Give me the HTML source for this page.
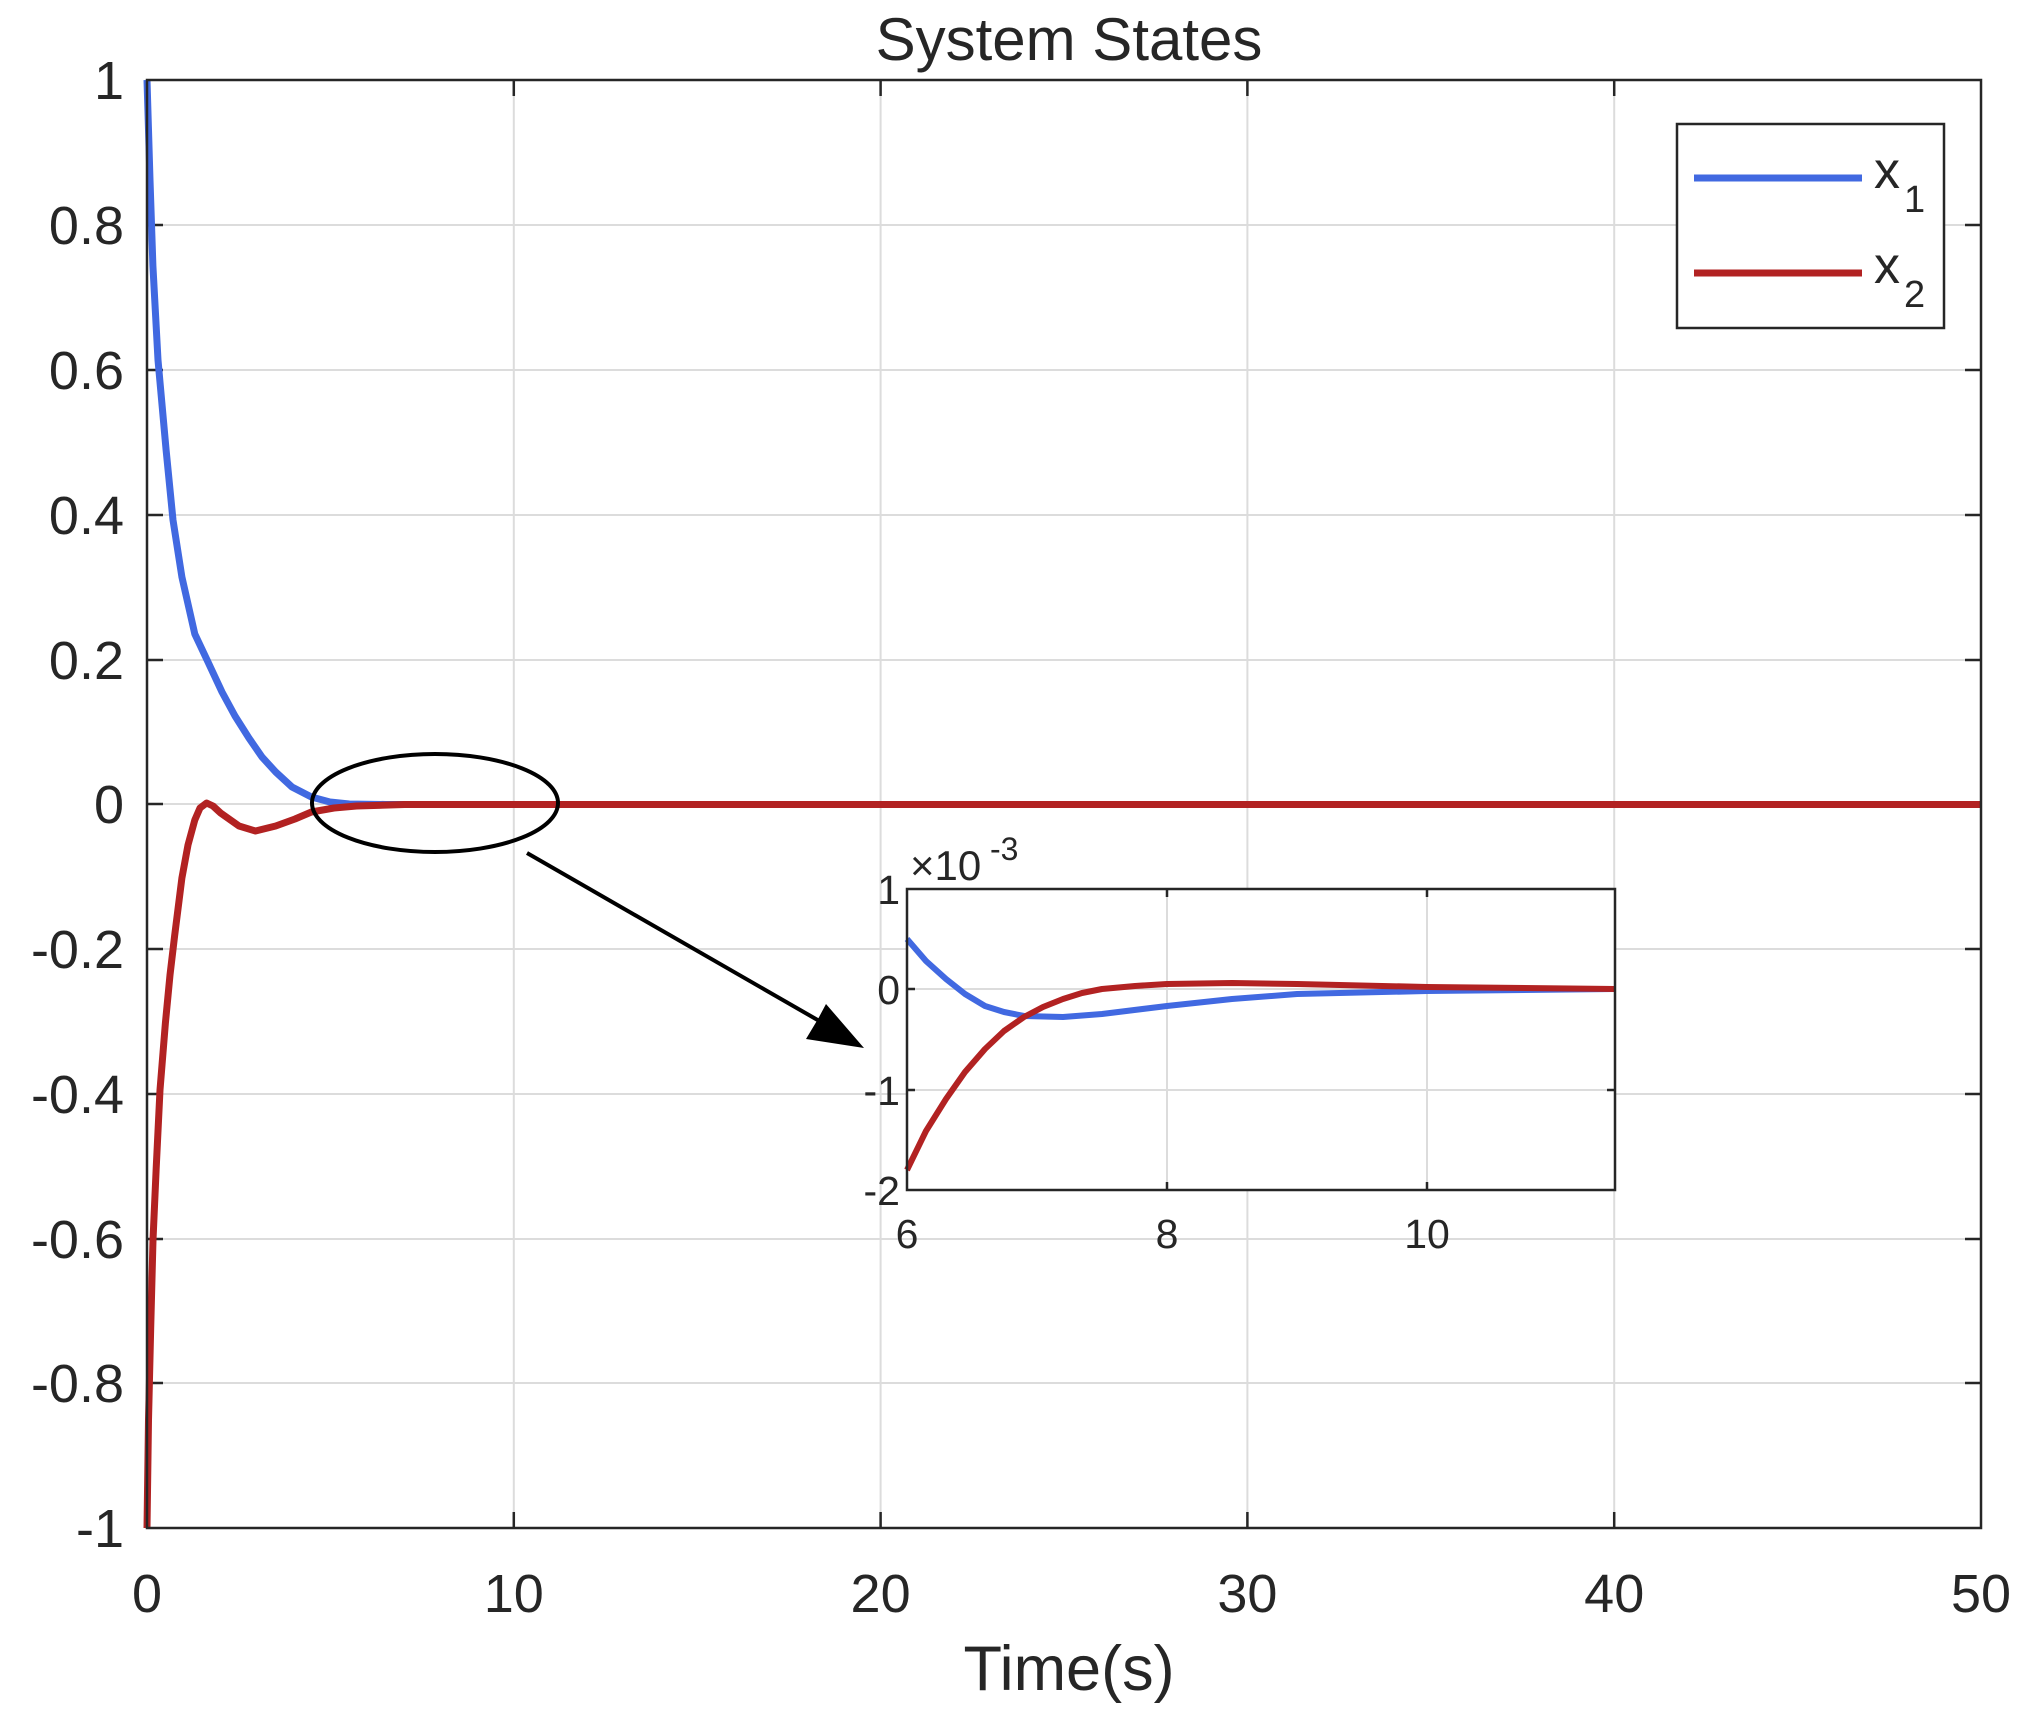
<!DOCTYPE html>
<html><head><style>body{margin:0;background:#fff}svg{display:block}text{font-family:"Liberation Sans",Arial,sans-serif;fill:#262626}</style></head>
<body>
<svg width="2032" height="1716" viewBox="0 0 2032 1716" xmlns="http://www.w3.org/2000/svg">
<rect width="2032" height="1716" fill="#fff"/>
<g stroke="#dcdcdc" stroke-width="2">
<line x1="513.8" y1="80" x2="513.8" y2="1528"/><line x1="880.6" y1="80" x2="880.6" y2="1528"/><line x1="1247.4" y1="80" x2="1247.4" y2="1528"/><line x1="1614.2" y1="80" x2="1614.2" y2="1528"/>
<line x1="147" y1="225" x2="1981" y2="225"/><line x1="147" y1="370" x2="1981" y2="370"/><line x1="147" y1="515" x2="1981" y2="515"/><line x1="147" y1="660" x2="1981" y2="660"/><line x1="147" y1="804" x2="1981" y2="804"/><line x1="147" y1="949" x2="1981" y2="949"/><line x1="147" y1="1094" x2="1981" y2="1094"/><line x1="147" y1="1239" x2="1981" y2="1239"/><line x1="147" y1="1383" x2="1981" y2="1383"/>
</g>
<g stroke="#262626" stroke-width="2.5">
<path d="M513.8 80v16M880.6 80v16M1247.4 80v16M1614.2 80v16M513.8 1528v-16M880.6 1528v-16M1247.4 1528v-16M1614.2 1528v-16"/>
<path d="M147 225h16M147 370h16M147 515h16M147 660h16M147 804h16M147 949h16M147 1094h16M147 1239h16M147 1383h16M1981 225h-16M1981 370h-16M1981 515h-16M1981 660h-16M1981 804h-16M1981 949h-16M1981 1094h-16M1981 1239h-16M1981 1383h-16"/>
</g>
<polyline fill="none" stroke="#4169e1" stroke-width="7" stroke-linejoin="round" points="147,80 150,180 152.9,265.7 158,360 166.1,450 173,520 181.9,577 194.8,634 208,662 222,692 235,716 248.9,738 262,757 275.7,772 292,787 311.4,797 330,802 349.3,804 386,804.5 1981,804.5"/>
<polyline fill="none" stroke="#b22222" stroke-width="7" stroke-linejoin="round" points="147,1528 148.5,1420 150.7,1328 153,1240 156.2,1168 160,1090 165.4,1023 170,975 174.6,936 181.9,878 188,845 194.8,820 200,808 206.6,803 213,806 220.6,813 239,826 255.5,831 275.7,826 295,819 311.4,812 334,808 356.6,806 404.5,804.5 1981,804.5"/>
<rect x="147" y="80" width="1834" height="1448" fill="none" stroke="#262626" stroke-width="2.5"/>
<g font-size="54" text-anchor="end">
<text x="124" y="99">1</text><text x="124" y="244">0.8</text><text x="124" y="389">0.6</text><text x="124" y="534">0.4</text><text x="124" y="679">0.2</text><text x="124" y="823">0</text><text x="124" y="968">-0.2</text><text x="124" y="1113">-0.4</text><text x="124" y="1258">-0.6</text><text x="124" y="1402">-0.8</text><text x="124" y="1547">-1</text>
</g>
<g font-size="54" text-anchor="middle">
<text x="147" y="1612">0</text><text x="513.8" y="1612">10</text><text x="880.6" y="1612">20</text><text x="1247.4" y="1612">30</text><text x="1614.2" y="1612">40</text><text x="1981" y="1612">50</text>
<text x="1069" y="60" font-size="60">System States</text>
<text x="1069" y="1690" font-size="63">Time(s)</text>
</g>
<rect x="1677" y="124" width="267" height="204" fill="#fff" stroke="#262626" stroke-width="2.5"/>
<line x1="1694" y1="178" x2="1862" y2="178" stroke="#4169e1" stroke-width="7"/>
<line x1="1694" y1="273" x2="1862" y2="273" stroke="#b22222" stroke-width="7"/>
<text x="1874" y="188" font-size="52">x</text><text x="1904" y="212" font-size="38">1</text>
<text x="1874" y="283" font-size="52">x</text><text x="1904" y="307" font-size="38">2</text>
<ellipse cx="435" cy="803" rx="123" ry="49" fill="none" stroke="#000" stroke-width="4"/>
<line x1="527" y1="853" x2="835" y2="1030" stroke="#000" stroke-width="4"/>
<polygon points="864,1048 806,1039 818,1019 826,1004" fill="#000"/>
<rect x="907" y="889" width="708" height="301" fill="#fff"/>
<g stroke="#dcdcdc" stroke-width="2"><line x1="1167" y1="889" x2="1167" y2="1190"/><line x1="1427" y1="889" x2="1427" y2="1190"/><line x1="907" y1="989" x2="1615" y2="989"/><line x1="907" y1="1090" x2="1615" y2="1090"/></g>
<g stroke="#262626" stroke-width="2.5"><path d="M1167 889v8M1427 889v8M1167 1190v-8M1427 1190v-8M907 989h8M907 1090h8M1615 989h-8M1615 1090h-8"/></g>
<polyline fill="none" stroke="#4169e1" stroke-width="6" stroke-linejoin="round" points="907,939 926,961 946,979 965,994 985,1006 1004,1012 1024,1016 1063,1017 1102,1014 1167,1006 1232,999 1297,994 1427,991 1615,989"/>
<polyline fill="none" stroke="#b22222" stroke-width="6" stroke-linejoin="round" points="907,1170 926,1131 946,1099 965,1072 985,1049 1004,1031 1024,1017 1043,1007 1063,999 1082,993 1102,989 1135,986 1167,984 1232,983 1297,984 1427,987 1615,989"/>
<rect x="907" y="889" width="708" height="301" fill="none" stroke="#262626" stroke-width="2.5"/>
<g font-size="41" text-anchor="end"><text x="900" y="904">1</text><text x="900" y="1004">0</text><text x="900" y="1105">-1</text><text x="900" y="1205">-2</text></g>
<g font-size="41" text-anchor="middle"><text x="907" y="1248">6</text><text x="1167" y="1248">8</text><text x="1427" y="1248">10</text></g>
<text x="910" y="880" font-size="42">×10</text><text x="990" y="860" font-size="32">-3</text>
</svg>
</body></html>
